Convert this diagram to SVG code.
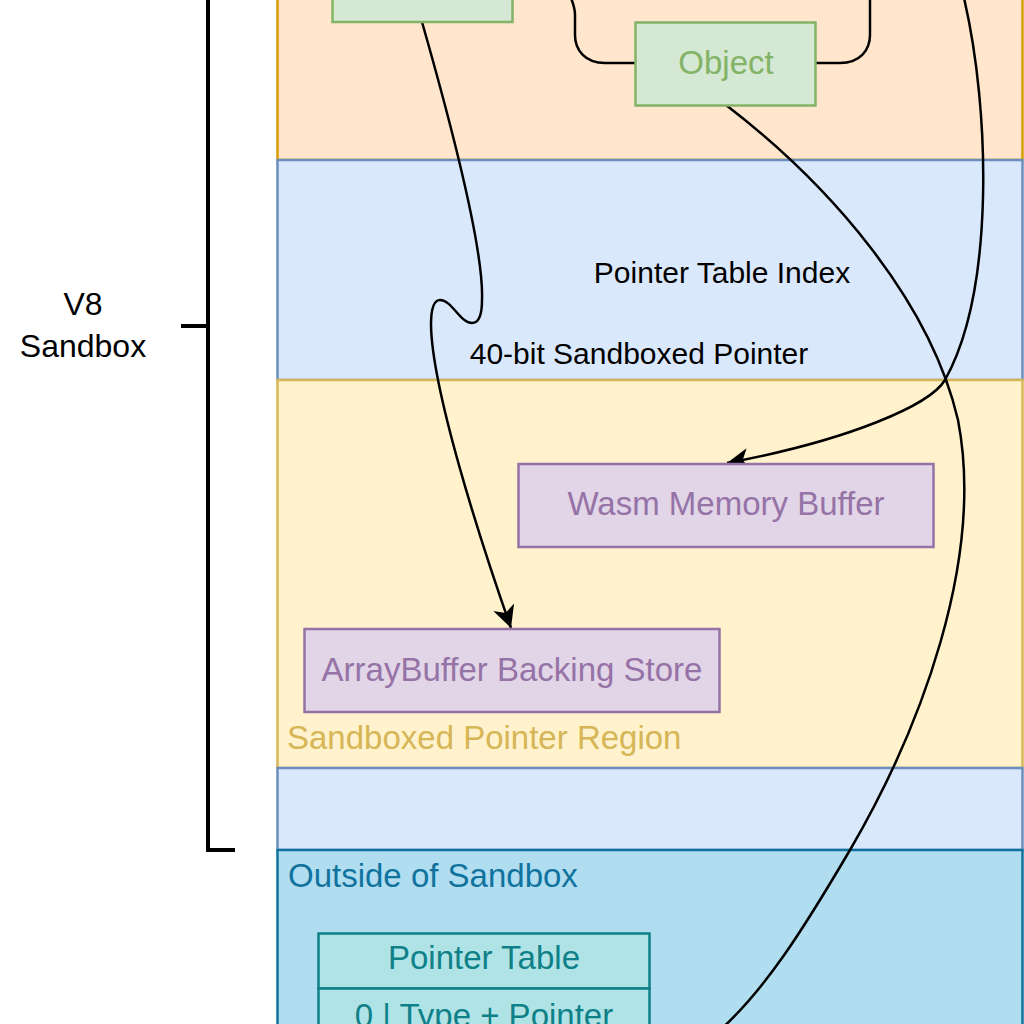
<svg xmlns="http://www.w3.org/2000/svg" width="1024" height="1024" viewBox="0 0 1024 1024">
<defs>
<style>
text{font-family:"Liberation Sans",Arial,Helvetica,sans-serif;}
.reg{stroke-width:2.5;}
.orange{fill:#ffe6cc;stroke:#d79b00;}
.blue{fill:#dae8fc;stroke:#6c8ebf;}
.yellow{fill:#fff2cc;stroke:#d6b656;}
.outside{fill:#b1ddf0;stroke:#10739e;}
.green{fill:#d5e8d4;stroke:#82b366;stroke-width:2.5;}
.purple{fill:#e1d5e7;stroke:#9673a6;stroke-width:2.5;}
.teal{fill:#b0e3e6;stroke:#0e8088;stroke-width:2.5;}
.edge{fill:none;stroke:#000;stroke-width:2.5;}
.bracket{fill:none;stroke:#000;stroke-width:4;}
.lbl{font-size:33px;text-anchor:middle;}
.small{font-size:30px;fill:#000;}
</style>
<marker id="arrow" markerUnits="userSpaceOnUse" markerWidth="24" markerHeight="24" viewBox="0 0 24 24" refX="22" refY="12" orient="auto">
<path d="M0,1 L22,12 L0,23 L6,12 Z" fill="#000"/>
</marker>
</defs>

<g id="region-heap">
<rect class="reg orange" x="277.5" y="-10" width="745" height="170"/>
</g>
<g id="region-pointer">
<rect class="reg blue" x="277.5" y="160" width="745" height="220"/>
<text class="small" x="722" y="283" text-anchor="middle">Pointer Table Index</text>
<text class="small" x="639" y="364" text-anchor="middle">40-bit Sandboxed Pointer</text>
</g>
<g id="region-sandboxed-pointer">
<rect class="reg yellow" x="277.5" y="380" width="745" height="388"/>
<text x="287" y="749" font-size="33" fill="#d6b656">Sandboxed Pointer Region</text>
</g>
<g id="region-blue2">
<rect class="reg blue" x="277.5" y="768" width="745" height="82"/>
</g>
<g id="region-outside">
<rect class="reg outside" x="277.5" y="850" width="745" height="190"/>
<text x="288" y="887" font-size="33" fill="#10739e">Outside of Sandbox</text>
</g>

<g id="bracket">
<path class="bracket" d="M208,-5 L208,850 L235,850"/>
<path class="bracket" d="M181,326 L208,326"/>
<text x="83" y="315" font-size="32" text-anchor="middle" fill="#000">V8</text>
<text x="83" y="357" font-size="32" text-anchor="middle" fill="#000">Sandbox</text>
</g>

<g id="connectors">
<path class="edge" marker-end="url(#arrow)" d="M422,22 C450,120 484,250 482,300 C482,316 479,323 472,323 C460,323 452,300 440,300 C433,300 431,312 431,325 C432,390 480,540 511,628"/>
<path class="edge" d="M635,63 L605,63 C585,63 575,50 575,35 L575,15 C575,8 573,3 571,-2"/>
<path class="edge" d="M816,63 L840,63 C860,63 870,50 870,35 L870,-2"/>
<path class="edge" d="M726,105 C830,185 930,300 958,420 C985,560 920,730 850,850 C803,930 765,990 718,1032"/>
<path class="edge" marker-end="url(#arrow)" d="M964,-2 C990,110 995,290 945,380 C930,405 850,440 727,463"/>
</g>

<g id="node-top">
<rect class="green" x="332.5" y="-61" width="180" height="83"/>
</g>
<g id="node-object">
<rect class="green" x="635.5" y="22.5" width="180" height="83"/>
<text class="lbl" x="726" y="74" fill="#82b366">Object</text>
</g>
<g id="node-wasm">
<rect class="purple" x="518.5" y="464" width="415" height="83"/>
<text class="lbl" x="726" y="515" fill="#9673a6">Wasm Memory Buffer</text>
</g>
<g id="node-arraybuffer">
<rect class="purple" x="304.5" y="629" width="415" height="83"/>
<text class="lbl" x="512" y="681" fill="#9673a6">ArrayBuffer Backing Store</text>
</g>
<g id="node-pointer-table">
<rect class="teal" x="318.5" y="933.5" width="331" height="55"/>
<text class="lbl" x="484" y="969" fill="#0e8088">Pointer Table</text>
<rect class="teal" x="318.5" y="988.5" width="331" height="55"/>
<text class="lbl" x="484" y="1027" fill="#0e8088">0 | Type + Pointer</text>
</g>
</svg>
